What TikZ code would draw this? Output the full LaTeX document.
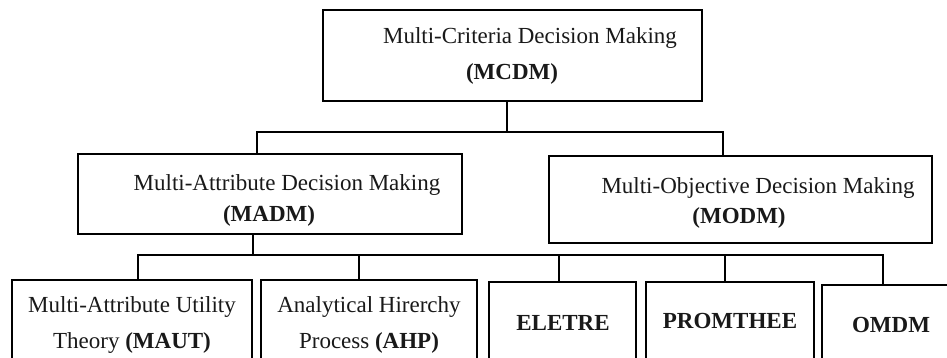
\documentclass[tikz,border=0pt]{standalone}
\usepackage{fontspec}
\setmainfont{Liberation Serif}
\begin{document}
\begin{tikzpicture}[x=1pt,y=-1pt,
  box/.style={draw=black,line width=2.6pt,inner sep=0pt,rectangle},
  conn/.style={draw=black,line width=2pt},
  txt/.style={font=\fontsize{23}{32}\selectfont,align=center,anchor=base,inner sep=0pt,text=black!90}]
\useasboundingbox[fill=white] (0,0) rectangle (947,358);
\clip (0,0) rectangle (947,358);
% boxes
\node[box,minimum width=379pt,minimum height=91pt] (top) at (512.5,55.5) {};
\node[box,minimum width=384pt,minimum height=80pt] (madm) at (270,194) {};
\node[box,minimum width=383pt,minimum height=87pt] (modm) at (740.5,199.5) {};
\node[box,minimum width=240pt,minimum height=90pt] (maut) at (132,325) {};
\node[box,minimum width=216pt,minimum height=90pt] (ahp) at (369,325) {};
\node[box,minimum width=147pt,minimum height=90pt] (eletre) at (562.5,327) {};
\node[box,minimum width=168pt,minimum height=90pt] (promthee) at (730,327) {};
\node[box,minimum width=140pt,minimum height=90pt] (omdm) at (892,330) {};
% texts (anchored at the baseline of the last line)
\node[txt] (toptxt) at (512,80) {\hspace*{36pt}Multi-Criteria Decision Making\\[4pt]\textbf{(MCDM)}};
\node[txt] (madmtxt) at (269,222) {\hspace*{36pt}Multi-Attribute Decision Making\\\textbf{(MADM)}};
\node[txt] (modmtxt) at (739,223) {\hspace*{38pt}Multi-Objective Decision Making\\[-2pt]\textbf{(MODM)}};
\node[txt] (mauttxt) at (132,348) {Multi-Attribute Utility\\[4pt]Theory \textbf{(MAUT)}};
\node[txt] (ahptxt) at (369,348) {Analytical Hirerchy\\[4pt]Process \textbf{(AHP)}};
\node[txt] (eletxt) at (563,330) {\textbf{ELETRE}};
\node[txt] (promtxt) at (730,328) {\textbf{PROMTHEE}};
\node[txt] (omdmtxt) at (891,332) {\textbf{OMDM}};
% connectors
\coordinate (j1) at (507,132);
\coordinate (j2) at (253,255);
\draw[conn] (top.south -| j1) -- (j1);
\draw[conn] ([xshift=-13pt]madm.north) |- (j1) -| ([xshift=-17.5pt]modm.north);
\draw[conn] (madm.south -| j2) -- (j2);
\draw[conn] ([xshift=6pt]maut.north) |- (j2) -| ([xshift=-9pt]omdm.north);
\draw[conn] ([xshift=-10pt]ahp.north) -- ([xshift=-10pt]ahp.north |- j2);
\draw[conn] ([xshift=-3.5pt]eletre.north) -- ([xshift=-3.5pt]eletre.north |- j2);
\draw[conn] ([xshift=-5pt]promthee.north) -- ([xshift=-5pt]promthee.north |- j2);
\end{tikzpicture}
\end{document}
